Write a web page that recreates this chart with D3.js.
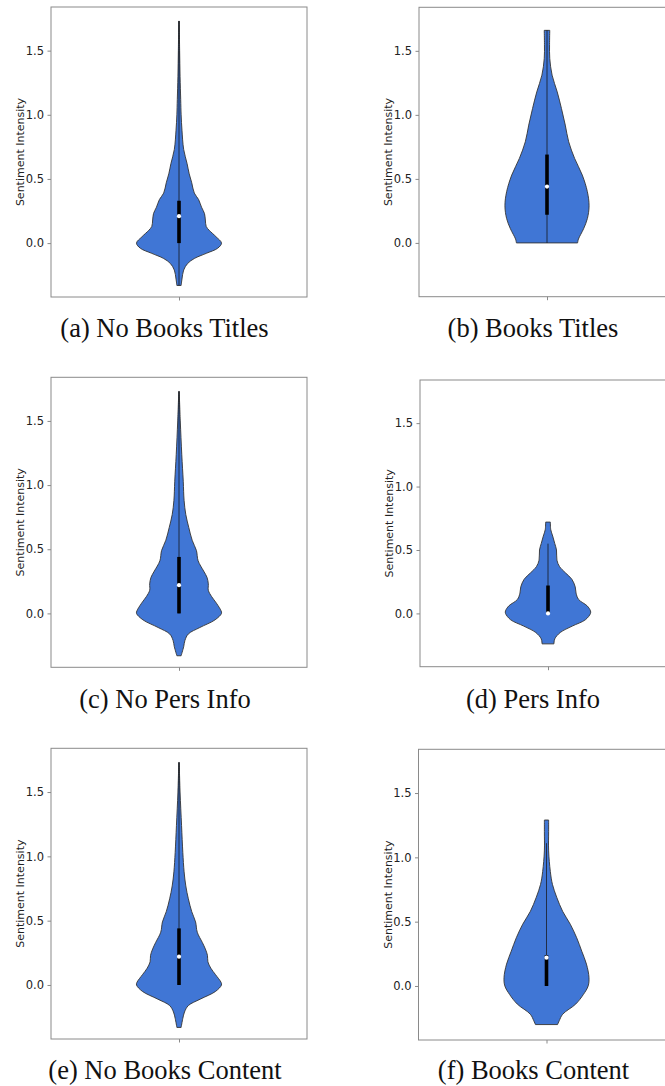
<!DOCTYPE html>
<html>
<head>
<meta charset="utf-8">
<script src="https://cdn.jsdelivr.net/npm/d3@7"></script>
<style>
  html, body { margin: 0; padding: 0; background: #fff; }
  svg { display: block; }
</style>
</head>
<body>
<svg id="chart" width="665" height="1086"></svg>
<script>
// ---------------- data ----------------
const panelIds = ["a", "b", "c", "d", "e", "f"];
const captions = ["(a) No Books Titles", "(b) Books Titles", "(c) No Pers Info",
                  "(d) Pers Info", "(e) No Books Content", "(f) Books Content"];
const yTicks = [0.0, 0.5, 1.0, 1.5];
const yLabel = "Sentiment Intensity";

// density profiles: [sentiment value, relative density (peak = 1)]
const densityA = [[-0.33,0.05],[-0.28,0.07],[-0.21,0.11],[-0.16,0.2],[-0.12,0.36],[-0.08,0.64],[-0.04,0.91],[0,1],[0.05,0.87],[0.1,0.71],[0.13,0.64],[0.18,0.62],[0.23,0.6],[0.28,0.53],[0.34,0.46],[0.39,0.36],[0.47,0.3],[0.54,0.24],[0.62,0.19],[0.73,0.11],[0.88,0.07],[1.0,0.05],[1.12,0.04],[1.3,0.025],[1.5,0.015],[1.73,0.005]];
const densityB = [[0,0.72],[0.03,0.74],[0.11,0.86],[0.19,0.95],[0.29,0.99],[0.4,0.95],[0.53,0.83],[0.66,0.65],[0.79,0.51],[0.92,0.43],[1.05,0.34],[1.18,0.24],[1.31,0.12],[1.44,0.065],[1.55,0.06],[1.66,0.065]];
const densityC = [[-0.33,0.05],[-0.26,0.11],[-0.21,0.14],[-0.16,0.22],[-0.11,0.49],[-0.05,0.85],[0,1],[0.02,0.99],[0.08,0.88],[0.13,0.77],[0.18,0.69],[0.23,0.69],[0.28,0.66],[0.33,0.58],[0.41,0.45],[0.49,0.41],[0.57,0.31],[0.67,0.23],[0.77,0.16],[0.88,0.12],[1.03,0.1],[1.24,0.065],[1.5,0.03],[1.73,0.005]];
const densityD = [[-0.24,0.14],[-0.2,0.16],[-0.15,0.29],[-0.1,0.57],[-0.05,0.88],[0,1],[0.02,1],[0.06,0.92],[0.11,0.72],[0.16,0.66],[0.21,0.64],[0.27,0.56],[0.32,0.41],[0.37,0.27],[0.42,0.21],[0.5,0.2],[0.55,0.16],[0.61,0.11],[0.66,0.065],[0.72,0.055]];
const densityE = [[-0.33,0.05],[-0.26,0.09],[-0.21,0.13],[-0.16,0.22],[-0.11,0.5],[-0.05,0.86],[0,1],[0.02,0.99],[0.08,0.86],[0.13,0.75],[0.18,0.68],[0.23,0.67],[0.28,0.62],[0.33,0.55],[0.41,0.43],[0.49,0.39],[0.57,0.3],[0.67,0.22],[0.77,0.16],[0.88,0.12],[1.03,0.09],[1.24,0.06],[1.5,0.025],[1.73,0.005]];
const densityF = [[-0.3,0.26],[-0.27,0.3],[-0.22,0.38],[-0.14,0.69],[-0.065,0.87],[0,0.98],[0.065,1],[0.17,0.94],[0.27,0.83],[0.375,0.71],[0.48,0.56],[0.58,0.38],[0.69,0.24],[0.79,0.14],[0.89,0.09],[1.05,0.05],[1.2,0.05],[1.29,0.05]];
const densities = [densityA, densityB, densityC, densityD, densityE, densityF];

// inner box stats per panel
const q1Values      = [0.00, 0.22, 0.00, 0.00, 0.00, 0.00];
const medianValues  = [0.21, 0.44, 0.22, 0.00, 0.22, 0.22];
const q3Values      = [0.33, 0.69, 0.44, 0.22, 0.44, 0.24];
const whiskerLow    = [-0.33, 0.00, 0.00, 0.00, 0.00, 0.00];
const whiskerHigh   = [1.73, 1.66, 1.73, 0.55, 1.73, 1.11];

// ---------------- layout (styles / positions) ----------------
const yDomain = [-0.42, 1.84];
const layout = [
  {left: 51,    top: 7,     w: 256, h: 290,   capX: 164.5, capY: 336.5},
  {left: 419,   top: 7.3,   w: 256, h: 289.4, capX: 533,   capY: 336.5},
  {left: 51,    top: 377.3, w: 256, h: 290,   capX: 165,   capY: 707.5},
  {left: 420,   top: 380,   w: 256, h: 286.7, capX: 533,   capY: 707.5},
  {left: 51,    top: 748.3, w: 256, h: 290.7, capX: 165,   capY: 1078.5},
  {left: 418.5, top: 749.3, w: 256, h: 290.7, capX: 533.5, capY: 1078.5}
];
const VIOLIN_HALF = 0.166;   // in x-axis units (axis spans -0.5..0.5)
const FILL = "#3a72d4";
const FRAME = "#8a8a8a";

const svg = d3.select("#chart");

panelIds.forEach((id, i) => {
  const L = layout[i];
  const g = svg.append("g").attr("class", "panel panel-" + id);

  const x = d3.scaleLinear().domain([-0.5, 0.5]).range([L.left, L.left + L.w]);
  const y = d3.scaleLinear().domain(yDomain).range([L.top + L.h, L.top]);

  // violin body
  const area = d3.area()
    .curve(d3.curveCatmullRom.alpha(0.5))
    .y(d => y(d[0]))
    .x0(d => x(-VIOLIN_HALF * d[1]))
    .x1(d => x(VIOLIN_HALF * d[1]));

  // whisker line
  g.append("line")
    .attr("x1", x(0)).attr("x2", x(0))
    .attr("y1", y(whiskerLow[i])).attr("y2", y(whiskerHigh[i]))
    .attr("stroke", "#111").attr("stroke-width", 1.1);

  g.append("path")
    .datum(densities[i])
    .attr("d", area)
    .attr("fill", FILL)
    .attr("fill-opacity", 0.97)
    .attr("stroke", "#333")
    .attr("stroke-width", 0.9)
    .attr("stroke-linejoin", "round");

  // whisker line on top (thin)
  g.append("line")
    .attr("x1", x(0)).attr("x2", x(0))
    .attr("y1", y(whiskerLow[i])).attr("y2", y(whiskerHigh[i]))
    .attr("stroke", "#1a1a1a").attr("stroke-opacity", 0.75).attr("stroke-width", 1);

  // box (IQR)
  g.append("line")
    .attr("x1", x(0)).attr("x2", x(0))
    .attr("y1", y(q1Values[i])).attr("y2", y(q3Values[i]))
    .attr("stroke", "#000").attr("stroke-width", 3.6);

  // median
  g.append("circle")
    .attr("cx", x(0)).attr("cy", y(medianValues[i]))
    .attr("r", 2.1)
    .attr("fill", "#fff");

  // frame
  g.append("rect")
    .attr("x", L.left).attr("y", L.top)
    .attr("width", L.w).attr("height", L.h)
    .attr("fill", "none")
    .attr("stroke", FRAME).attr("stroke-width", 1);

  // y axis
  const yAxis = g.append("g")
    .attr("transform", `translate(${L.left},0)`)
    .call(d3.axisLeft(y).tickValues(yTicks).tickFormat(d3.format(".1f"))
      .tickSize(3.5).tickPadding(3.5));
  yAxis.select(".domain").remove();
  yAxis.selectAll(".tick line").attr("stroke", FRAME);
  yAxis.selectAll(".tick text")
    .attr("fill", "#222")
    .style("font-family", "'DejaVu Sans', sans-serif")
    .style("font-size", "11.5px");

  // x axis (single tick, no label)
  const xAxis = g.append("g")
    .attr("transform", `translate(0,${L.top + L.h})`)
    .call(d3.axisBottom(x).tickValues([0]).tickFormat("").tickSize(3.5));
  xAxis.select(".domain").remove();
  xAxis.selectAll(".tick line").attr("stroke", FRAME);

  // y label
  g.append("text")
    .attr("transform", `translate(${L.left - 27},${L.top + L.h / 2}) rotate(-90)`)
    .attr("text-anchor", "middle")
    .attr("fill", "#222")
    .style("font-family", "'DejaVu Sans', sans-serif")
    .style("font-size", "11px")
    .text(yLabel);

  // caption
  g.append("text")
    .attr("x", L.capX).attr("y", L.capY)
    .attr("text-anchor", "middle")
    .attr("fill", "#111")
    .style("font-family", "'Liberation Serif', 'Times New Roman', serif")
    .style("font-size", "26.5px")
    .text(captions[i]);
});
</script>
</body>
</html>
